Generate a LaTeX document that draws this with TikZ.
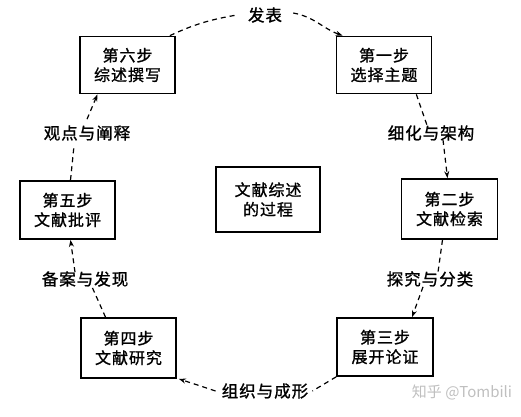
\documentclass[tikz,border=0pt]{standalone}
\usepackage{fontspec}
\newfontfamily\cjk[LetterSpace=6,FakeBold=1.2]{Noto Sans CJK SC}
\usetikzlibrary{arrows.meta}
\begin{document}
\begin{tikzpicture}[x=1pt,y=-1pt,
  stepbox/.style={draw, line width=1.7pt, minimum width=95pt, minimum height=57pt, align=center, inner sep=0pt, font=\cjk\fontsize{16}{19.5}\selectfont},
  lbl/.style={inner sep=2pt, font=\cjk\fontsize{16.5}{18}\selectfont},
  dl/.style={dashed, dash pattern=on 5pt off 4pt, line width=1.2pt},
  arr/.style={-{Stealth[length=7pt,width=5pt]}}
]
\useasboundingbox (0,0) rectangle (521,416);
\node[stepbox] (n6) at (127.5,65) {第六步\\综述撰写};
\node[stepbox] (n1) at (384,65) {第一步\\选择主题};
\node[stepbox, minimum height=58pt] (n5) at (67.5,210) {第五步\\文献批评};
\node[stepbox, minimum width=104pt, minimum height=65pt] (c) at (268,199.5) {文献综述\\的过程};
\node[stepbox, minimum width=96pt, minimum height=60pt] (n2) at (449.5,209) {第二步\\文献检索};
\node[stepbox, minimum height=60pt] (n4) at (128.5,348) {第四步\\文献研究};
\node[stepbox, minimum width=96pt, minimum height=58pt] (n3) at (385,347) {第三步\\展开论证};

\node[lbl] (fb) at (265,15) {发表};
\node[lbl] (gd) at (87,133) {观点与阐释};
\node[lbl] (xh) at (431,133) {细化与架构};
\node[lbl] (ba) at (85,279) {备案与发现};
\node[lbl] (tj) at (430,279) {探究与分类};
\node[lbl] (zz) at (265,391) {组织与成形};
\node[inner sep=0pt, text=black!25, font=\fontspec{Noto Sans CJK SC}\fontsize{15}{16}\selectfont] (wm) at (462,392) {知乎 @Tombili};

\draw[dl] ([xshift=-6pt]n6.north east) to[out=25,in=190] ([xshift=-9pt]fb.west);
\draw[dl,arr] ([xshift=9pt,yshift=2pt]fb.east) to[out=-10,in=160] ([xshift=7pt]n1.north west);
\draw[dl] ([xshift=-16pt]n1.south east) -- ([xshift=-3pt,yshift=-5pt]xh.north);
\draw[dl,arr] ([xshift=12pt,yshift=3pt]xh.south) -- ([xshift=-2pt]n2.north);
\draw[dl] ([xshift=-7pt]n2.south) -- ([xshift=8pt,yshift=-3pt]tj.north);
\draw[dl,arr] ([xshift=-7pt,yshift=2pt]tj.south) -- ([xshift=27pt]n3.north);
\draw[dl] (n3.south west) -- ([xshift=2pt]zz.east);
\draw[dl,arr] ([xshift=-4pt]zz.west) -- ([xshift=2pt]n4.south east);
\draw[dl] ([xshift=-23pt]n4.north) -- ([xshift=7pt,yshift=2pt]ba.south);
\draw[dl,arr] ([xshift=-10pt,yshift=-3pt]ba.north) -- ([xshift=3pt]n5.south);
\draw[dl] ([xshift=3pt]n5.north) -- ([xshift=-13pt,yshift=-3pt]gd.south);
\draw[dl,arr] ([yshift=4pt]gd.north) -- ([xshift=-30pt]n6.south);
\end{tikzpicture}
\end{document}
